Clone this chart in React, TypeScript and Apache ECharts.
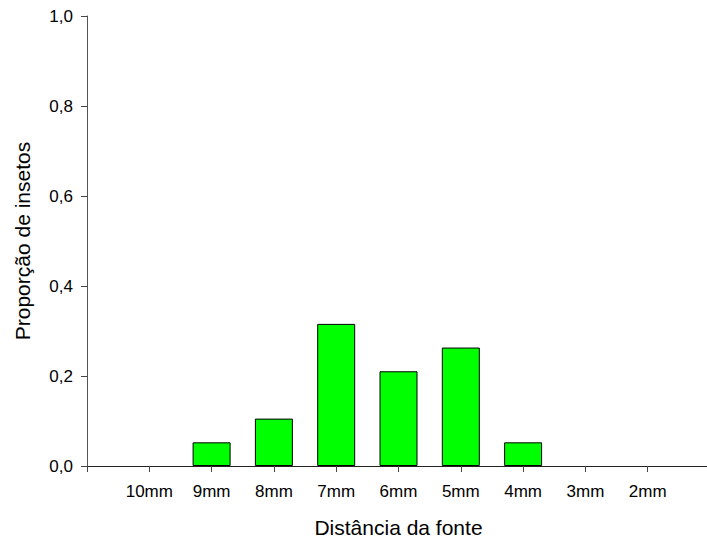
import React, { useEffect, useRef } from "react";
import * as echarts from "echarts";

const categories = ["", "10mm", "9mm", "8mm", "7mm", "6mm", "5mm", "4mm", "3mm", "2mm", ""];
const proportions = [null, 0, 0.0526, 0.1053, 0.3158, 0.2105, 0.2632, 0.0526, 0, 0, null];
const yTicks = [0, 0.2, 0.4, 0.6, 0.8, 1.0];
const xTitle = "Distância da fonte";
const yTitle = "Proporção de insetos";

export default function App() {
  const ref = useRef<HTMLDivElement>(null);
  useEffect(() => {
    if (!ref.current) return;
    const chart = echarts.init(ref.current, null, { renderer: "svg" });
    const font = "Arial, 'Liberation Sans', sans-serif";
    chart.setOption({
      animation: false,
      backgroundColor: "#ffffff",
      textStyle: { fontFamily: font },
      grid: { left: 87, right: -3, top: 16, bottom: 74, containLabel: false, outerBoundsMode: "none" },
      xAxis: {
        type: "category",
        data: categories,
        boundaryGap: false,
        name: xTitle,
        nameLocation: "middle",
        nameGap: 51,
        nameTextStyle: { fontSize: 21, lineHeight: 21, color: "#000", fontFamily: font },
        axisLine: { lineStyle: { color: "#222", width: 1 } },
        axisTick: { show: true, alignWithLabel: true, length: 6, lineStyle: { color: "#444" } },
        axisLabel: { fontSize: 17, color: "#000", margin: 17, fontFamily: font },
        splitLine: { show: false },
      },
      yAxis: {
        type: "value",
        min: 0,
        max: 1,
        interval: 0.2,
        name: yTitle,
        nameLocation: "middle",
        nameGap: 54,
        nameRotate: 90,
        nameTextStyle: { fontSize: 21, color: "#000", fontFamily: font },
        axisLine: { show: true, lineStyle: { color: "#555", width: 1 } },
        axisTick: { show: true, length: 6, lineStyle: { color: "#444" } },
        axisLabel: {
          fontSize: 17,
          color: "#000",
          margin: 14,
          fontFamily: font,
          formatter: (v: number) => (yTicks.includes(Math.round(v * 10) / 10) ? v.toFixed(1).replace(".", ",") : ""),
        },
        splitLine: { show: false },
      },
      series: [
        {
          type: "bar",
          data: proportions.map((v) => (v === 0 ? null : v)),
          barWidth: 38,
          itemStyle: { color: "#00ff00", borderColor: "#000", borderWidth: 1 },
        },
      ],
    });
    return () => chart.dispose();
  }, []);
  return <div ref={ref} style={{ width: 707, height: 540, position: "absolute", left: 0, top: 0 }} />;
}
